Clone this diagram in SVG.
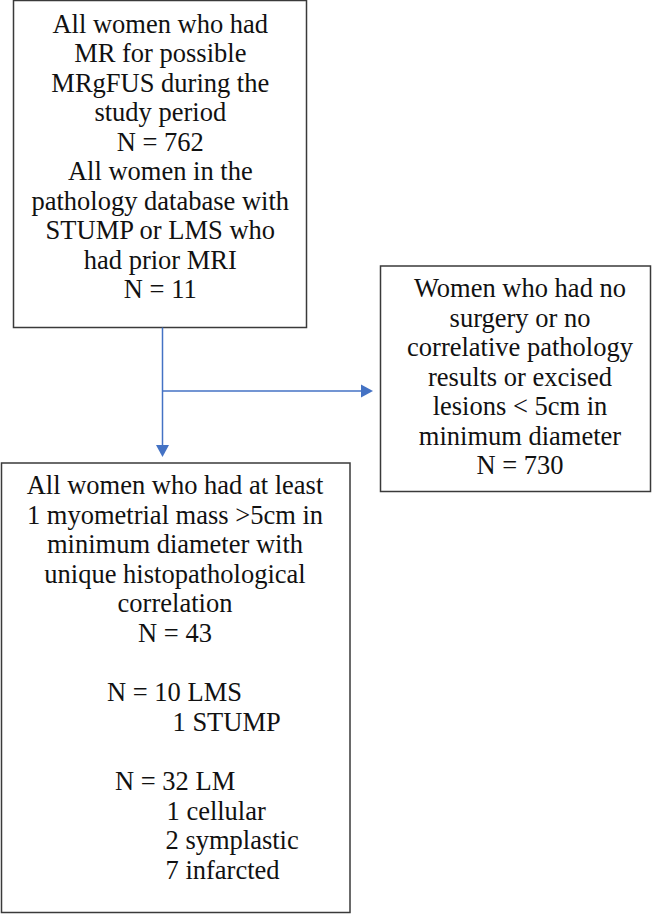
<svg xmlns="http://www.w3.org/2000/svg" width="661" height="914" viewBox="0 0 661 914">
<style>
.box{fill:#fff;stroke:#3a3a3a;stroke-width:1.5}
.t{font-family:'Liberation Serif','Times New Roman',serif;font-size:26.5px;fill:#111}
.c{text-anchor:middle}
.ln{stroke:#4472c4;stroke-width:1.5;fill:none}
.ah{fill:#4472c4}
</style>
<rect width="661" height="914" fill="#fff"/>
<g id="top">
<rect class="box" x="13.5" y="0.5" width="293" height="327"/>
<text class="t c" x="160.3" y="32.7">All women who had</text>
<text class="t c" x="160.3" y="62.2">MR for possible</text>
<text class="t c" x="160.3" y="91.7">MRgFUS during the</text>
<text class="t c" x="160.3" y="121.2">study period</text>
<text class="t c" x="160.3" y="150.7">N = 762</text>
<text class="t c" x="160.3" y="180.2">All women in the</text>
<text class="t c" x="160.3" y="209.7">pathology database with</text>
<text class="t c" x="160.3" y="239.2">STUMP or LMS who</text>
<text class="t c" x="160.3" y="268.7">had prior MRI</text>
<text class="t c" x="160.3" y="298.2">N = 11</text>
</g>
<g id="excluded">
<rect class="box" x="380.5" y="266" width="270" height="225.5"/>
<text class="t c" x="520" y="297">Women who had no</text>
<text class="t c" x="520" y="326.5">surgery or no</text>
<text class="t c" x="520" y="356">correlative pathology</text>
<text class="t c" x="520" y="385.5">results or excised</text>
<text class="t c" x="520" y="415">lesions &lt; 5cm in</text>
<text class="t c" x="520" y="444.5">minimum diameter</text>
<text class="t c" x="520" y="474">N = 730</text>
</g>
<g id="included">
<rect class="box" x="1.5" y="463" width="348.5" height="449.5"/>
<text class="t c" x="175" y="494">All women who had at least</text>
<text class="t c" x="175" y="523.5">1 myometrial mass &gt;5cm in</text>
<text class="t c" x="175" y="553">minimum diameter with</text>
<text class="t c" x="175" y="582.5">unique histopathological</text>
<text class="t c" x="175" y="612">correlation</text>
<text class="t c" x="175" y="641.5">N = 43</text>
<text class="t" x="107" y="701">N = 10 LMS</text>
<text class="t" x="172.5" y="730.5">1 STUMP</text>
<text class="t" x="115" y="790">N = 32 LM</text>
<text class="t" x="166.5" y="819.5">1 cellular</text>
<text class="t" x="165.5" y="849">2 symplastic</text>
<text class="t" x="165.5" y="878.5">7 infarcted</text>
</g>
<g id="connectors">
<line class="ln" x1="162.5" y1="327.5" x2="162.5" y2="446"/>
<polygon class="ah" points="156,445 169,445 162.5,457"/>
<line class="ln" x1="162.5" y1="391" x2="362" y2="391"/>
<polygon class="ah" points="361,384.5 361,397.5 373,391"/>
</g>
</svg>
